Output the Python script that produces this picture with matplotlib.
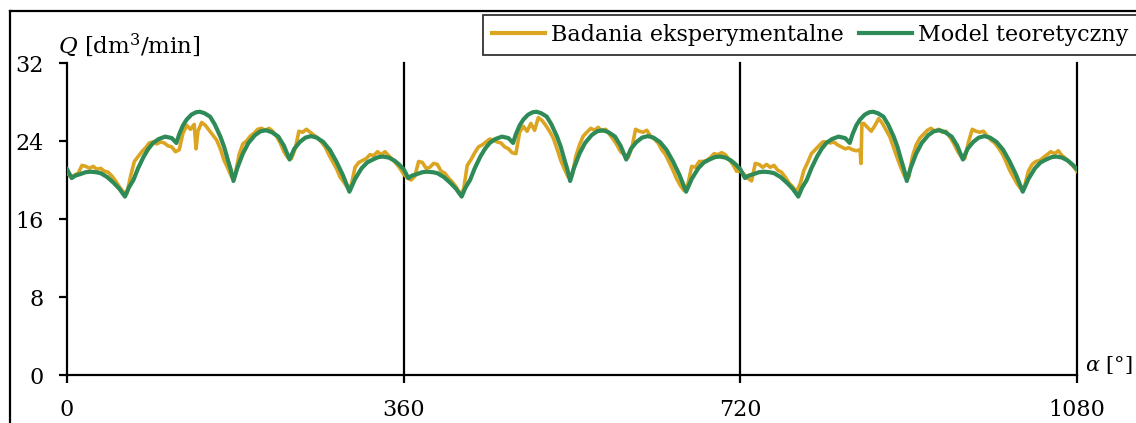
import numpy as np
import matplotlib
matplotlib.use("Agg")
import matplotlib.pyplot as plt
from matplotlib.lines import Line2D

plt.rcParams["font.family"] = "DejaVu Serif"
plt.rcParams["mathtext.fontset"] = "dejavuserif"
plt.rcParams["font.size"] = 16

GOLD = "#DCA521"
GREEN = "#2E8B57"

# model teoretyczny - jeden okres (0..360 deg), powtarzany co 360
model_alpha = [0, 5, 9, 14, 20, 25, 31, 36, 43, 50, 56, 62,
               66, 71, 76, 82, 87, 92, 98, 105, 112, 117,
               120, 124, 128, 133, 138, 142, 147, 153, 158, 164, 168, 172, 175, 178,
               182, 188, 194, 201, 207, 213, 219, 226, 232, 238,
               243, 249, 255, 261, 267, 274, 281, 288, 295, 302,
               308, 315, 321, 327, 333, 338, 344, 350, 355, 360]
model_q = [21.1, 20.2, 20.45, 20.6, 20.8, 20.85, 20.8, 20.7, 20.3, 19.7, 19.1, 18.3,
           19.2, 20.0, 21.2, 22.4, 23.2, 23.8, 24.2, 24.45, 24.3, 23.8,
           24.7, 25.6, 26.2, 26.7, 26.95, 27.0, 26.85, 26.5, 25.7, 24.45, 23.4, 22.05, 21.1, 19.9,
           21.2, 22.7, 23.8, 24.6, 25.0, 25.1, 24.9, 24.45, 23.5, 22.1,
           23.2, 23.9, 24.35, 24.5, 24.35, 23.9, 23.1, 21.9, 20.5, 18.8,
           20.1, 21.2, 21.8, 22.1, 22.35, 22.4, 22.3, 22.0, 21.6, 21.1]
periods = [0, 360, 720]

# badania eksperymentalne - probki co 4 deg w kazdym okresie
exp_step = np.arange(0, 360, 4)
exp_q_1 = [20.8, 20.3, 20.5, 20.7, 21.5, 21.4, 21.2, 21.4, 21.1, 21.2,
           20.9, 20.8, 20.4, 19.9, 19.3, 18.8, 18.6, 20.4, 21.9, 22.4,
           22.9, 23.3, 23.8, 23.9, 23.7, 23.9, 23.8, 23.5, 23.4, 22.9,
           23.1, 24.8, 25.6, 25.2, 25.7, 25.0, 25.9, 25.6, 25.1, 24.6,
           24.1, 23.2, 22.0, 21.2, 20.3, 20.6, 22.6, 23.7, 24.0, 24.5,
           24.8, 25.2, 25.3, 25.1, 25.3, 25.0, 24.5, 23.8, 22.9, 22.3,
           22.2, 23.2, 25.0, 24.9, 25.2, 24.9, 24.6, 24.3, 23.9, 23.4,
           22.6, 21.9, 21.2, 20.3, 19.8, 19.2, 19.5, 21.3, 21.8, 22.0,
           22.2, 22.6, 22.5, 22.9, 22.6, 22.9, 22.5, 22.1, 21.7, 21.2]
exp_q_2 = [20.6, 20.2, 20.0, 20.4, 21.9, 21.8, 21.2, 21.3, 21.7, 21.6,
           20.9, 20.7, 20.2, 19.8, 19.3, 18.6, 19.0, 21.5, 22.1, 22.8,
           23.4, 23.6, 23.9, 24.2, 24.1, 23.9, 23.8, 23.4, 23.2, 22.8,
           22.7, 24.9, 25.5, 25.0, 25.8, 25.1, 26.4, 26.1, 25.6, 25.0,
           24.3, 23.2, 22.0, 21.1, 20.3, 20.4, 22.4, 23.6, 24.5, 24.9,
           25.3, 25.1, 25.4, 25.0, 25.2, 24.7, 24.2, 23.6, 22.9, 22.6,
           22.3, 23.3, 25.2, 25.0, 24.9, 25.1, 24.5, 24.2, 23.8, 23.1,
           22.6, 21.8, 21.0, 20.1, 19.4, 18.9, 19.6, 21.4, 21.3, 21.9,
           21.9, 22.0, 22.3, 22.7, 22.6, 22.8, 22.6, 22.1, 21.6, 20.9]
exp_q_3 = [20.9, 20.6, 20.2, 19.9, 21.7, 21.6, 21.3, 21.6, 21.3, 21.5,
           21.0, 20.8, 20.3, 19.7, 19.3, 18.8, 19.6, 21.0, 21.8, 22.7,
           23.1, 23.5, 23.9, 23.9, 23.8, 23.9, 23.6, 23.4, 23.2, 23.3,
           23.1, 23.0, 23.1, 25.8, 25.4, 25.0, 25.6, 26.3, 25.8, 25.1,
           24.4, 23.3, 22.2, 21.2, 20.3, 20.3, 22.4, 23.6, 24.3, 24.7,
           25.1, 25.3, 25.0, 25.2, 24.9, 25.0, 24.4, 23.8, 23.0, 22.4,
           22.2, 23.9, 25.2, 25.0, 24.9, 25.0, 24.5, 24.1, 23.8, 23.3,
           22.7, 21.9, 21.0, 20.3, 19.6, 19.1, 19.4, 20.9, 21.6, 21.9,
           22.0, 22.3, 22.6, 22.9, 22.7, 23.0, 22.5, 22.2, 21.8, 21.4]
exp_end = (1080, 20.9)
# pojedyncze szpilki w pomiarze
spike_alpha = [138, 849, 850]
spike_q = [23.2, 21.7, 25.8]

# --- zlozenie serii ---
m_a, m_q = [], []
for k, off in enumerate(periods):
    a = np.array(model_alpha) + off
    q = np.array(model_q)
    if k > 0:
        a, q = a[1:], q[1:]
    m_a.append(a)
    m_q.append(q)
m_a = np.concatenate(m_a)
m_q = np.concatenate(m_q)

e_a = np.concatenate([exp_step + off for off in periods] + [[exp_end[0]], spike_alpha])
e_q = np.concatenate([exp_q_1, exp_q_2, exp_q_3, [exp_end[1]], spike_q])
order = np.argsort(e_a, kind="stable")
e_a, e_q = e_a[order], e_q[order]

W, H = 1136, 423
fig = plt.figure(figsize=(W / 100, H / 100), dpi=100)
ax = fig.add_axes([67 / W, 1 - 375 / H, (1077 - 67) / W, (375 - 63) / H])

ax.plot(e_a, e_q, color=GOLD, lw=2.6, label="Badania eksperymentalne", zorder=3,
        solid_joinstyle="round")
ax.plot(m_a, m_q, color=GREEN, lw=3.0, label="Model teoretyczny", zorder=4,
        solid_joinstyle="round")

ax.set_xlim(0, 1080)
ax.set_ylim(0, 32)
ax.set_xticks([0, 360, 720, 1080])
ax.set_yticks([0, 8, 16, 24, 32])
for x in [360, 720, 1080]:
    ax.axvline(x, color="black", lw=1.6, zorder=2, clip_on=False)

for s in ["top", "right"]:
    ax.spines[s].set_visible(False)
for s in ["left", "bottom"]:
    ax.spines[s].set_linewidth(1.6)
ax.tick_params(axis="both", direction="out", length=6, width=1.6, labelsize=16)
ax.tick_params(axis="y", pad=11)
ax.tick_params(axis="x", pad=11)

ax.text(58 / W, 1 - 45 / H, "$Q$ [dm$^3$/min]", transform=fig.transFigure,
        ha="left", va="center", fontsize=16.5)
ax.text(1085 / W, 1 - 365 / H, r"$\alpha$ [°]", transform=fig.transFigure,
        ha="left", va="center", fontsize=15)

leg = fig.legend(loc="upper left", bbox_to_anchor=(483 / W, 1 - 15 / H), ncol=2,
                 frameon=True, fancybox=False, borderaxespad=0, borderpad=0.4,
                 handlelength=2.4, handletextpad=0.25, columnspacing=0.7,
                 fontsize=16)
leg.get_frame().set_edgecolor("black")
leg.get_frame().set_linewidth(1.3)
for ln in leg.get_lines():
    ln.set_linewidth(3.0)

# ramka rysunku
fig.add_artist(Line2D([10 / W, 10 / W], [0, 1 - 11 / H], color="black", lw=1.6,
                      transform=fig.transFigure))
fig.add_artist(Line2D([10 / W, 1], [1 - 11 / H, 1 - 11 / H], color="black", lw=1.6,
                      transform=fig.transFigure))

fig.savefig("out.png", dpi=100)
